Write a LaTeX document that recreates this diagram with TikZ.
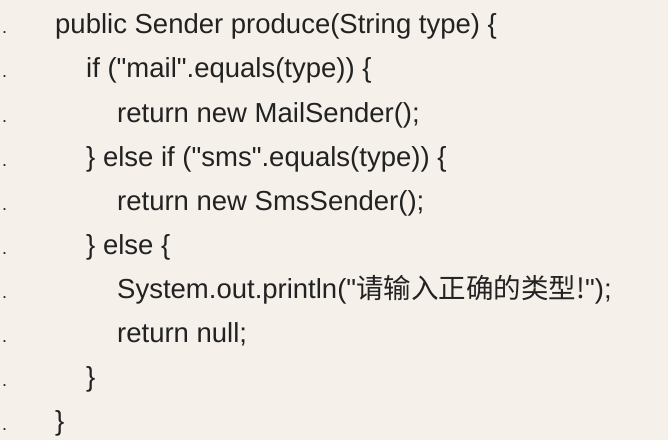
\documentclass[tikz,border=0pt]{standalone}
\usepackage{fontspec}
\setmainfont{Liberation Sans}
\newfontfamily\cjk{Noto Sans CJK SC}
\definecolor{bg}{HTML}{F5F0EA}
\definecolor{tx}{HTML}{222222}
\newcommand{\q}{\textquotedbl}
\begin{document}
\begin{tikzpicture}[x=1pt,y=1pt,
  ln/.style={anchor=base west,inner sep=0pt,text=tx,font=\fontsize{27.5}{32}\selectfont},
  dt/.style={anchor=base west,inner sep=0pt,text=tx,font=\fontsize{18}{20}\selectfont}]
\fill[bg] (0,0) rectangle (668,440);
\useasboundingbox (0,0) rectangle (668,440);
\foreach \i in {0,...,9} {\node[dt] (d\i) at (2,{440-24-44*\i-10}) {.};}
\node[ln] (l0) at (55,{440-24-10}) {public Sender produce(String type) \{};
\node[ln] (l1) at (86,{440-68-10}) {if (\q mail\q.equals(type)) \{};
\node[ln] (l2) at (117,{440-112-10}) {return new MailSender();};
\node[ln] (l3) at (86,{440-156-10}) {\} else if (\q sms\q.equals(type)) \{};
\node[ln] (l4) at (117,{440-200-10}) {return new SmsSender();};
\node[ln] (l5) at (86,{440-244-10}) {\} else \{};
\node[ln] (l6) at (117,{440-288-10}) {System.out.println(\q{\cjk 请输入正确的类型!}\q);};
\node[ln] (l7) at (117,{440-332-10}) {return null;};
\node[ln] (l8) at (86,{440-376-10}) {\}};
\node[ln] (l9) at (55,{440-420-10}) {\}};
\end{tikzpicture}
\end{document}
